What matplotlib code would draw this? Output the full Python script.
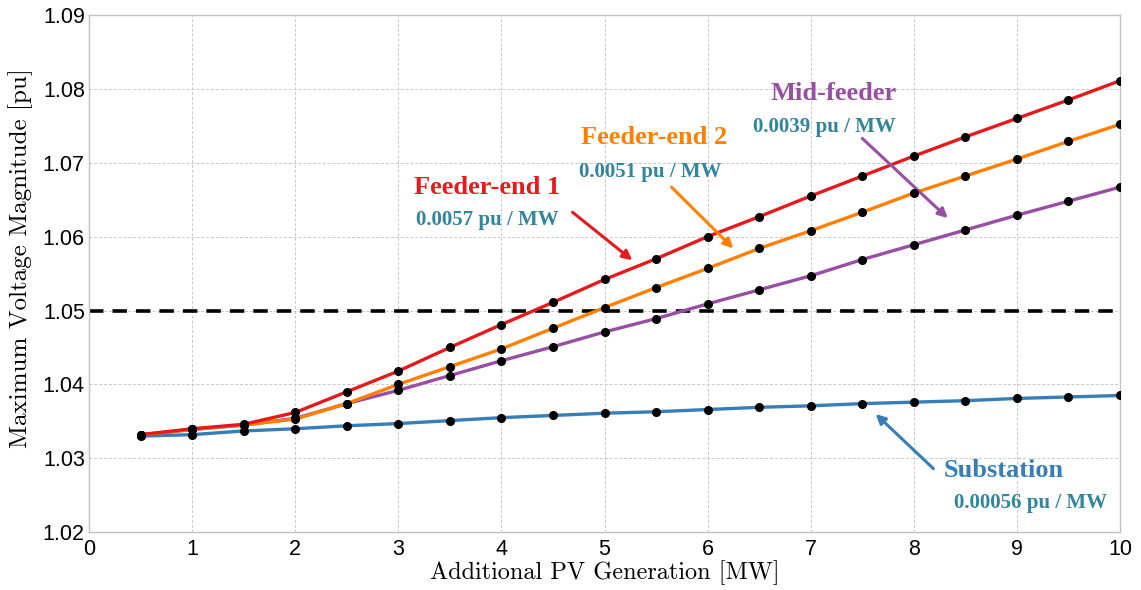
import numpy as np
import matplotlib
matplotlib.use("Agg")
import matplotlib.pyplot as plt

# --- data ---
pv_mw = [0.5, 1, 1.5, 2, 2.5, 3, 3.5, 4, 4.5, 5, 5.5, 6, 6.5, 7, 7.5, 8, 8.5, 9, 9.5, 10]

feeder_end_1 = [1.0332, 1.0340, 1.0346, 1.0362, 1.0390, 1.0418, 1.0450, 1.0481, 1.0511, 1.0542,
                1.0570, 1.0600, 1.0627, 1.0655, 1.0682, 1.0709, 1.0735, 1.0760, 1.0785, 1.0811]
feeder_end_2 = [1.0332, 1.0339, 1.0345, 1.0353, 1.0374, 1.0400, 1.0424, 1.0448, 1.0476, 1.0504,
                1.0531, 1.0557, 1.0584, 1.0608, 1.0633, 1.0659, 1.0682, 1.0705, 1.0729, 1.0752]
mid_feeder = [1.0331, 1.0339, 1.0345, 1.0354, 1.0374, 1.0392, 1.0412, 1.0432, 1.0451, 1.0471,
              1.0489, 1.0509, 1.0528, 1.0547, 1.0569, 1.0589, 1.0609, 1.0629, 1.0648, 1.0667]
substation = [1.0330, 1.0332, 1.0337, 1.0340, 1.0344, 1.0347, 1.0351, 1.0355, 1.0358, 1.0361,
              1.0363, 1.0366, 1.0369, 1.0371, 1.0374, 1.0376, 1.0378, 1.0381, 1.0383, 1.0385]

voltage_limit = 1.05

RED = "#E41A1C"
ORANGE = "#FF7F00"
PURPLE = "#984EA3"
BLUE = "#377EB8"
TEAL = "#31859C"

fig = plt.figure(figsize=(11.41, 5.90), dpi=100)
ax = fig.add_axes([0.078, 0.098, 0.9036, 0.8766])

ax.axhline(voltage_limit, color="black", lw=2.6, ls=(0, (4, 2.5)), zorder=2)

for series, color in [(substation, BLUE), (mid_feeder, PURPLE),
                      (feeder_end_2, ORANGE), (feeder_end_1, RED)]:
    ax.plot(pv_mw, series, color=color, lw=2.4, zorder=3)
for series in [substation, mid_feeder, feeder_end_2, feeder_end_1]:
    ax.plot(pv_mw, series, ls="none", marker="o", ms=5.5, color="black", zorder=4)

ax.set_xlim(0, 10)
ax.set_ylim(1.02, 1.09)
ax.set_xticks(range(0, 11))
ax.set_yticks(np.arange(1.02, 1.0901, 0.01))
ax.set_yticklabels([f"{v:.2f}" for v in np.arange(1.02, 1.0901, 0.01)])
ax.tick_params(length=0, labelsize=15.5)
ax.tick_params(axis="x", pad=5)
ax.tick_params(axis="y", pad=3)
for lab in ax.get_xticklabels() + ax.get_yticklabels():
    lab.set_fontfamily("Liberation Sans")

ax.grid(True, color="#c8c8c8", ls=(0, (3, 2)), lw=0.7)
for sp in ax.spines.values():
    sp.set_color("#c0c0c0")
    sp.set_linewidth(1.0)

ax.set_xlabel("Additional PV Generation [MW]", fontfamily="cmr10", fontsize=17.5, labelpad=0)
ax.set_ylabel("Maximum Voltage Magnitude [pu]", fontfamily="cmr10", fontsize=18)
ax.yaxis.set_label_coords(-0.054, 0.53)

# --- annotations ---
title_kw = dict(fontfamily="Liberation Serif", fontweight="bold", fontsize=19, ha="center", va="center")
sub_kw = dict(fontfamily="Liberation Serif", fontweight="bold", fontsize=15, color=TEAL, ha="center", va="center")
arrow_kw = dict(arrowstyle="-|>", lw=2.2, mutation_scale=14, shrinkA=0, shrinkB=0)

ax.text(3.86, 1.0667, "Feeder-end 1", color=RED, **title_kw)
ax.text(3.86, 1.0622, "0.0057 pu / MW", **sub_kw)
ax.annotate("", xy=(5.27, 1.0568), xytext=(4.69, 1.0633), arrowprops=dict(color=RED, **arrow_kw))

ax.text(5.48, 1.0734, "Feeder-end 2", color=ORANGE, **title_kw)
ax.text(5.44, 1.0687, "0.0051 pu / MW", **sub_kw)
ax.annotate("", xy=(6.25, 1.0584), xytext=(5.65, 1.0667), arrowprops=dict(color=ORANGE, **arrow_kw))

ax.text(7.22, 1.0794, "Mid-feeder", color=PURPLE, **title_kw)
ax.text(7.13, 1.0749, "0.0039 pu / MW", **sub_kw)
ax.annotate("", xy=(8.33, 1.0625), xytext=(7.50, 1.0733), arrowprops=dict(color=PURPLE, **arrow_kw))

ax.text(8.87, 1.0284, "Substation", color=BLUE, **title_kw)
ax.text(9.13, 1.0240, "0.00056 pu / MW", **sub_kw)
ax.annotate("", xy=(7.63, 1.0360), xytext=(8.19, 1.0286), arrowprops=dict(color=BLUE, **arrow_kw))

fig.savefig("out.png", dpi=100)
